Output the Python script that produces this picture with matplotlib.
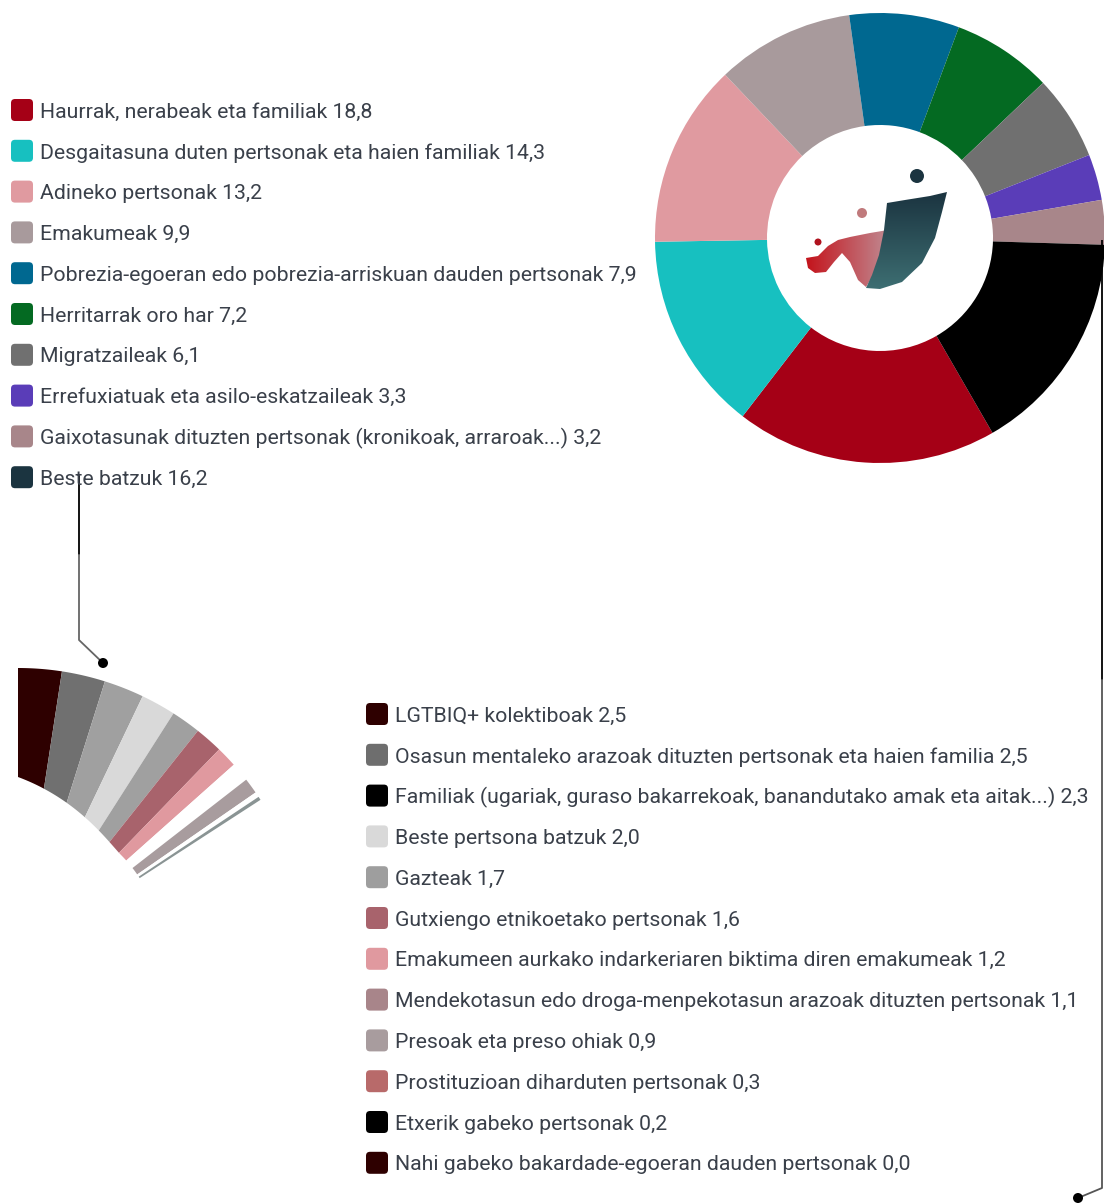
import numpy as np
import matplotlib.pyplot as plt
from matplotlib.patches import Polygon, FancyBboxPatch, Circle
from matplotlib.colors import LinearSegmentedColormap

plt.rcParams['font.family'] = ['Roboto', 'DejaVu Sans']

# Main groups
main_labels = ['Haurrak, nerabeak eta familiak', 'Desgaitasuna duten pertsonak eta haien familiak',
               'Adineko pertsonak', 'Emakumeak',
               'Pobrezia-egoeran edo pobrezia-arriskuan dauden pertsonak', 'Herritarrak oro har',
               'Migratzaileak', 'Errefuxiatuak eta asilo-eskatzaileak',
               'Gaixotasunak dituzten pertsonak (kronikoak, arraroak...)', 'Beste batzuk']
main_values = [18.8, 14.3, 13.2, 9.9, 7.9, 7.2, 6.1, 3.3, 3.2, 16.2]
main_colors = ['#a50016', '#17c0c0', '#e09aa0', '#a89a9c', '#006890', '#046a22',
               '#707070', '#5a3db8', '#a8868a', '#000000']
main_legend_colors = main_colors[:-1] + ['#1b3440']

# "Beste batzuk" breakdown
sub_labels = ['LGTBIQ+ kolektiboak', 'Osasun mentaleko arazoak dituzten pertsonak eta haien familia',
              'Familiak (ugariak, guraso bakarrekoak, banandutako amak eta aitak...)',
              'Beste pertsona batzuk', 'Gazteak', 'Gutxiengo etnikoetako pertsonak',
              'Emakumeen aurkako indarkeriaren biktima diren emakumeak',
              'Mendekotasun edo droga-menpekotasun arazoak dituzten pertsonak',
              'Presoak eta preso ohiak', 'Prostituzioan diharduten pertsonak',
              'Etxerik gabeko pertsonak', 'Nahi gabeko bakardade-egoeran dauden pertsonak']
sub_values = [2.5, 2.5, 2.3, 2.0, 1.7, 1.6, 1.2, 1.1, 0.9, 0.3, 0.2, 0.0]
sub_legend_colors = ['#2e0000', '#6e6e6e', '#000000', '#d9d9d9', '#9e9e9e', '#a8636c',
                     '#e0999f', '#a8858a', '#a89c9e', '#b86a6a', '#000000', '#2e0000']
sub_fan_colors = ['#2e0000', '#707070', '#a0a0a0', '#d9d9d9', '#a0a0a0', '#a8636c',
                  '#e0999f', '#ffffff', '#a89c9e', '#ffffff', '#8a9494', '#2e0000']

W, H = 1104, 1203
TXT = '#3a404a'


def fmt(v):
    return f'{v:.1f}'.replace('.', ',')


fig = plt.figure(figsize=(W / 100, H / 100), dpi=100)
ax = fig.add_axes([0, 0, 1, 1])

# Main donut
ax.pie(main_values, colors=main_colors, startangle=-60, counterclock=False,
       radius=225, center=(880, H - 238), wedgeprops=dict(width=112, linewidth=0))


# Logo in the hole (rough, with gradients)
def grad_patch(pts, c1, c2, horizontal):
    poly = Polygon([(x, H - y) for x, y in pts], closed=True, fc='none', ec='none')
    ax.add_patch(poly)
    xs = [p[0] for p in pts]
    ys = [H - p[1] for p in pts]
    cmap = LinearSegmentedColormap.from_list('g', [c1, c2])
    g = np.linspace(0, 1, 64)
    arr = g[None, :] if horizontal else g[:, None]
    im = ax.imshow(arr, cmap=cmap, extent=(min(xs), max(xs), min(ys), max(ys)),
                   aspect='auto', origin='upper', interpolation='bilinear')
    im.set_clip_path(poly)


grad_patch([(806, 258), (818, 256), (828, 246), (838, 240), (850, 237), (870, 233), (888, 230),
            (884, 250), (875, 272), (866, 287), (858, 280), (850, 262), (842, 253), (834, 262),
            (826, 272), (815, 273), (808, 268)], '#c4141c', '#c08890', True)
grad_patch([(887, 203), (905, 200), (930, 196), (947, 192), (942, 212), (935, 238), (922, 263),
            (902, 282), (880, 289), (866, 288), (872, 275), (879, 255), (884, 230)],
           '#1b3440', '#3d6e72', False)
ax.add_patch(Circle((917, H - 176), 7, fc='#1b3440', ec='none'))
ax.add_patch(Circle((862, H - 213), 5, fc='#c07a7c', ec='none'))
ax.add_patch(Circle((818, H - 242), 3.5, fc='#b0121e', ec='none'))

# Breakdown fan
cx, cy = 18, H - 957
r_out = 289


def r_in(theta):
    return 145 + 35 * max(0.0, (theta - 45) / 45) ** 1.5


deg_per_unit = 3.5
start = 90.0
for v, c in zip(sub_values, sub_fan_colors):
    if v <= 0:
        continue
    end = start - v * deg_per_unit
    th = np.linspace(start, end, 40)
    outer = [(cx + r_out * np.cos(np.radians(t)), cy + r_out * np.sin(np.radians(t))) for t in th]
    inner = [(cx + r_in(t) * np.cos(np.radians(t)), cy + r_in(t) * np.sin(np.radians(t))) for t in th[::-1]]
    ax.add_patch(Polygon(outer + inner, closed=True, fc=c, ec='none'))
    start = end

# Connectors
ax.plot([79, 79], [H - 475, H - 555], color='#000000', lw=1.3, solid_capstyle='butt')
ax.plot([79, 79, 103], [H - 555, H - 640, H - 663], color='#666666', lw=1.3)
ax.add_patch(Circle((103, H - 663), 5, fc='#000000', ec='none', zorder=5))
ax.plot([1102, 1102], [H - 240, H - 680], color='#000000', lw=1.3, solid_capstyle='butt')
ax.plot([1102, 1102, 1078], [H - 680, H - 1188, H - 1198], color='#555555', lw=1.3)
ax.add_patch(Circle((1078, H - 1198), 5, fc='#000000', ec='none', zorder=5))


def legend_rows(x0, y0, labels, values, colors):
    for i, (lab, v, c) in enumerate(zip(labels, values, colors)):
        y = y0 + i * 40.8
        ax.add_patch(FancyBboxPatch((x0 + 3, H - y - 8), 16, 16,
                                    boxstyle='round,pad=3,rounding_size=4', fc=c, ec='none'))
        ax.text(x0 + 29, H - y, f'{lab} {fmt(v)}', fontsize=15.3, color=TXT,
                va='center_baseline', ha='left')


legend_rows(11, 110, main_labels, main_values, main_legend_colors)
legend_rows(366, 714, sub_labels, sub_values, sub_legend_colors)

ax.set_xlim(0, W)
ax.set_ylim(0, H)
ax.set_aspect('auto')
ax.axis('off')
fig.savefig('out.png', dpi=100, facecolor='white')
